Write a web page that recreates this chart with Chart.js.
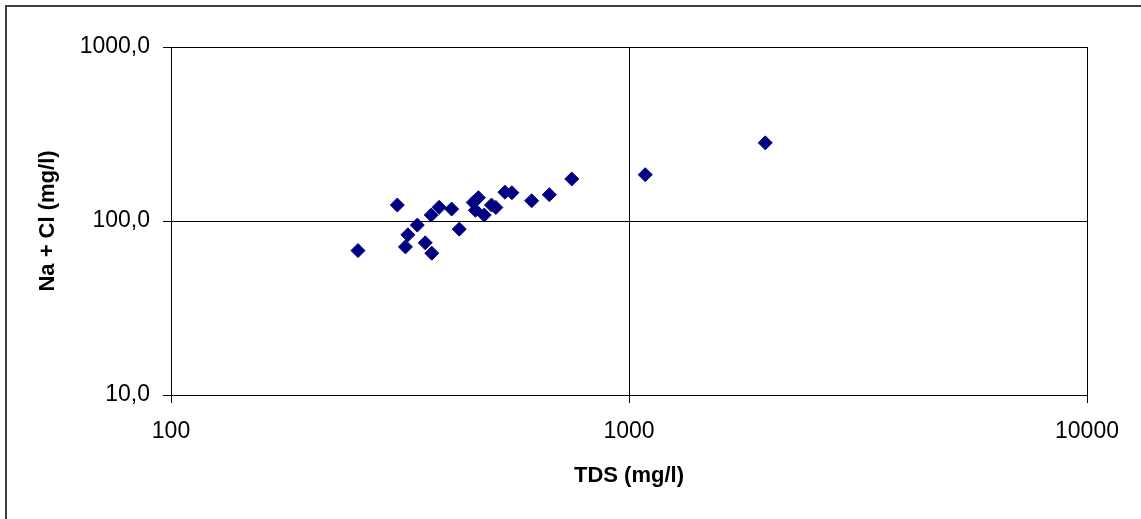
<!DOCTYPE html>
<html>
<head>
<meta charset="utf-8">
<script src="https://cdn.jsdelivr.net/npm/chart.js@4/dist/chart.umd.min.js"></script>
<style>
  html, body { margin: 0; padding: 0; background: #fff; }
  #wrap { width: 1141px; height: 519px; }
</style>
</head>
<body>
<div id="wrap"><canvas id="tdsChart" width="1141" height="519"></canvas></div>
<script>
// TDS vs Na + Cl, both in mg/l
var tds    = [256, 312, 345, 329, 325, 359, 371, 370, 385, 410, 426, 457, 469, 462, 483, 501, 512, 536, 555, 613, 670, 750, 1085, 1984];
var naCl   = [67.6, 123.5, 94.7, 83.3, 71.0, 74.9, 65.3, 108.2, 119.9, 117.1, 89.8, 127.8, 136.1, 115.3, 108.2, 123.5, 119.6, 146.4, 145.4, 130.7, 141.6, 174.4, 184.6, 281.2];
var xTicks = [100, 1000, 10000];
var yTicks = [10, 100, 1000];

var points = tds.map(function(t, i) { return {x: t, y: naCl[i]}; });

// frame round the whole chart (only top and left edge are inside the canvas)
var frame = {
  id: 'frame',
  beforeDraw: function(chart) {
    var ctx = chart.ctx;
    ctx.save();
    ctx.strokeStyle = '#404040';
    ctx.lineWidth = 2;
    ctx.strokeRect(6, 6, 1200, 600);
    ctx.restore();
  }
};

var tickFont = {family: 'Liberation Sans, Arial, sans-serif', size: 23};
var titleFont = {family: 'Liberation Sans, Arial, sans-serif', size: 22, weight: 'bold'};

new Chart(document.getElementById('tdsChart'), {
  type: 'scatter',
  data: {
    datasets: [{
      label: 'Na + Cl',
      data: points,
      pointStyle: 'rectRot',
      pointRadius: 7,
      pointHoverRadius: 7,
      backgroundColor: '#000080',
      borderColor: '#000080',
      borderWidth: 1
    }]
  },
  options: {
    responsive: false,
    animation: false,
    layout: { padding: { left: 0, top: 47, right: 54, bottom: 0 } },
    plugins: { legend: { display: false }, tooltip: { enabled: false } },
    scales: {
      x: {
        type: 'logarithmic',
        min: 100,
        max: 10000,
        afterBuildTicks: function(scale) { scale.ticks = xTicks.map(function(v) { return {value: v}; }); },
        afterFit: function(scale) { scale.height = 124; },
        grid: { color: '#000', lineWidth: 1, tickLength: 8, drawTicks: true },
        border: { color: '#000', width: 1 },
        ticks: {
          color: '#000', font: tickFont, padding: 15, maxRotation: 0,
          callback: function(v) { return String(v); }
        },
        title: { display: true, text: 'TDS (mg/l)', color: '#000', font: titleFont, padding: { top: 0, bottom: 30 } }
      },
      y: {
        type: 'logarithmic',
        min: 10,
        max: 1000,
        afterBuildTicks: function(scale) { scale.ticks = yTicks.map(function(v) { return {value: v}; }); },
        afterFit: function(scale) { scale.width = 171; },
        grid: { color: '#000', lineWidth: 1, tickLength: 8, drawTicks: true },
        border: { color: '#000', width: 1 },
        ticks: {
          color: '#000', font: tickFont, padding: 13,
          callback: function(v) { return v.toFixed(1).replace('.', ','); }
        },
        title: { display: true, text: 'Na + Cl (mg/l)', color: '#000', font: titleFont, padding: { top: 35, bottom: 0 } }
      }
    }
  },
  plugins: [frame]
});
</script>
</body>
</html>
